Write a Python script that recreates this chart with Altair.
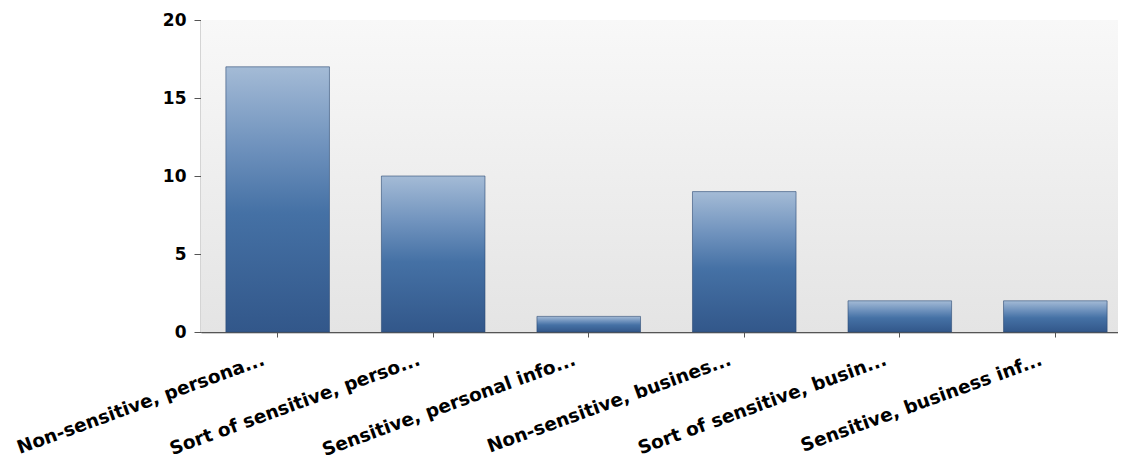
import altair as alt
import pandas as pd

categories = [
    "Non-sensitive, persona...",
    "Sort of sensitive, perso...",
    "Sensitive, personal info...",
    "Non-sensitive, busines...",
    "Sort of sensitive, busin...",
    "Sensitive, business inf...",
]
values = [17, 10, 1, 9, 2, 2]
y_ticks = [0, 5, 10, 15, 20]

df = pd.DataFrame({"category": categories, "value": values})

W, H = 917, 312

bar_grad = alt.Gradient(
    gradient="linear",
    stops=[
        alt.GradientStop(color="#a4bbd6", offset=0),
        alt.GradientStop(color="#6f92bd", offset=0.3),
        alt.GradientStop(color="#4571a5", offset=0.55),
        alt.GradientStop(color="#32578a", offset=1),
    ],
    x1=0, x2=0, y1=0, y2=1,
)
bg_grad = alt.Gradient(
    gradient="linear",
    stops=[
        alt.GradientStop(color="#f8f8f8", offset=0),
        alt.GradientStop(color="#e4e4e4", offset=1),
    ],
    x1=0, x2=0, y1=0, y2=1,
)

background = alt.Chart(df).mark_rect(fill=bg_grad).encode(
    x=alt.value(0), x2=alt.value(W), y=alt.value(0), y2=alt.value(H)
)

bars = alt.Chart(df).mark_bar(fill=bar_grad, stroke="#2c4a74", strokeWidth=0.6).encode(
    x=alt.X(
        "category:N",
        sort=categories,
        scale=alt.Scale(range=[0, 931], paddingInner=0.334, paddingOuter=0.16),
        axis=alt.Axis(
            title=None,
            labelAngle=-20,
            labelAlign="right",
            labelBaseline="top",
            labelFont="DejaVu Sans",
            labelFontWeight="bold",
            labelFontSize=18.5,
            labelColor="#000000",
            labelLimit=0,
            labelOffset=-17,
            labelPadding=13,
            labelOverlap=False,
            tickSize=5,
            tickColor="#555555",
            domainColor="#555555",
            domainWidth=1.5,
            grid=False,
        ),
    ),
    y=alt.Y(
        "value:Q",
        scale=alt.Scale(domain=[0, 20], nice=False),
        axis=alt.Axis(
            title=None,
            values=y_ticks,
            labelFont="DejaVu Sans",
            labelFontWeight="bold",
            labelFontSize=17,
            labelColor="#000000",
            labelPadding=8,
            tickSize=7,
            tickColor="#555555",
            domainColor="#555555",
            domainWidth=1.5,
            grid=True,
            gridColor=alt.condition("datum.value == 20", alt.value("transparent"), alt.value("#d2d2d2")),
            gridWidth=1.5,
        ),
    ),
)

chart = (
    alt.layer(background, bars)
    .properties(
        width=W,
        height=H,
        autosize=alt.AutoSizeParams(type="none"),
        padding={"left": 193, "top": 12, "right": 0, "bottom": 124},
        background="white",
    )
    .configure_view(stroke=None)
)

chart.save("out.html", embed_options={"renderer": "svg", "actions": False})
